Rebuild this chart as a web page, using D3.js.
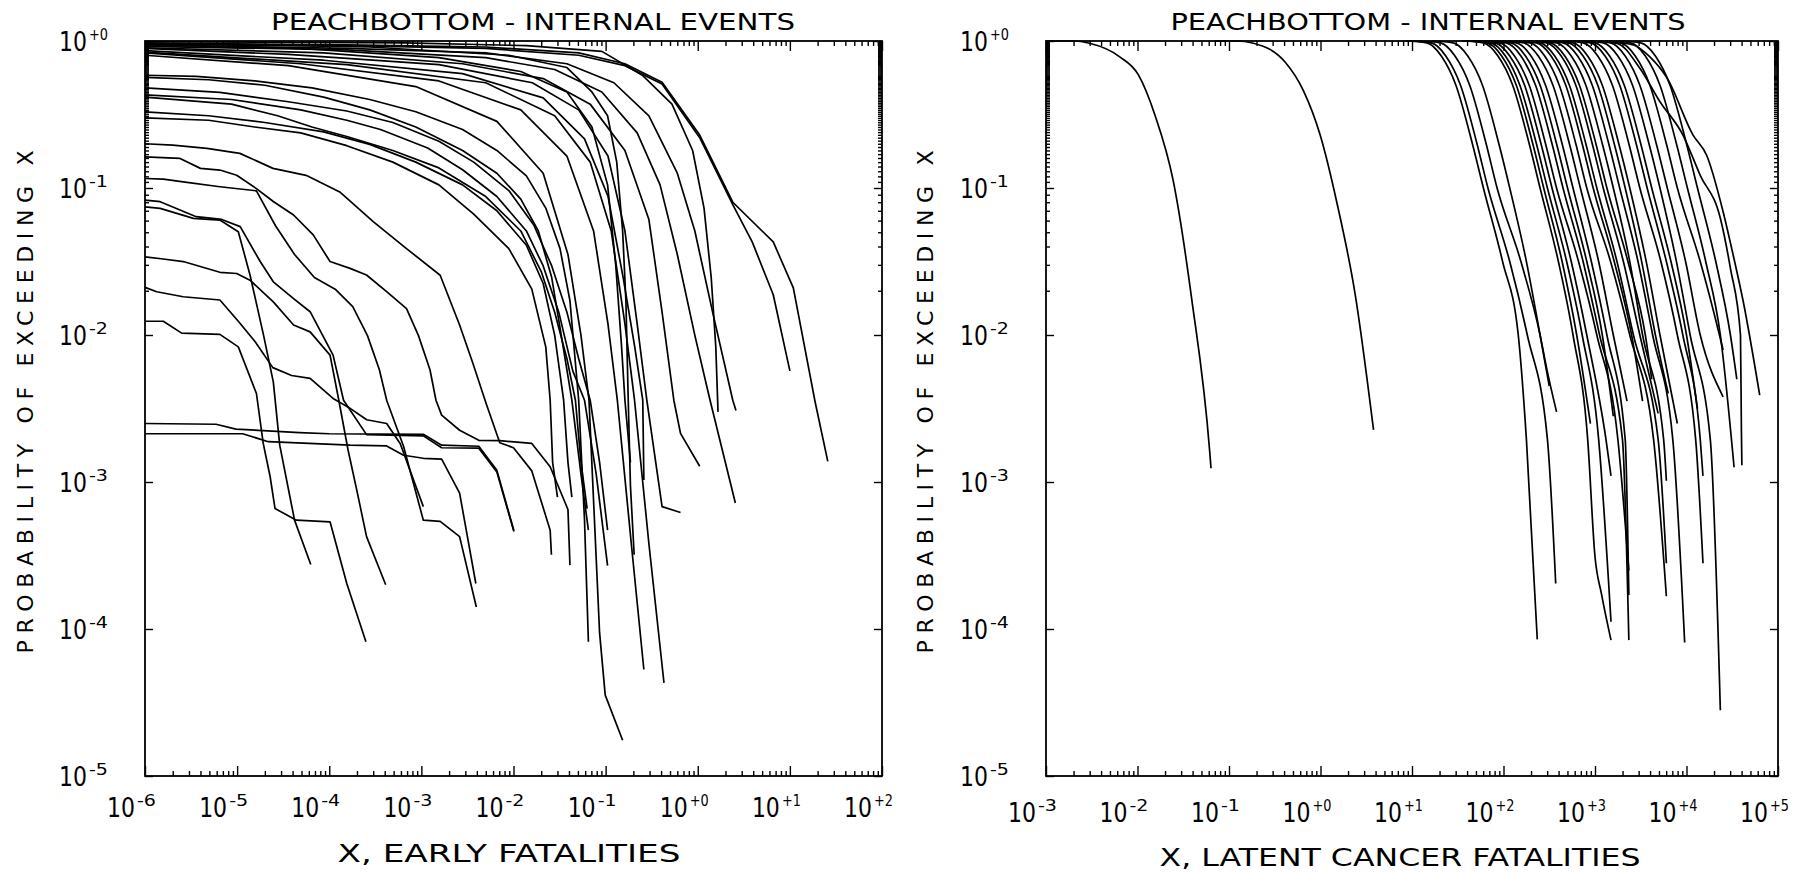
<!DOCTYPE html>
<html>
<head>
<meta charset="utf-8">
<title>Peachbottom - Internal Events</title>
<script src="https://cdn.jsdelivr.net/npm/d3@7/dist/d3.min.js"></script>
<style>
  body { margin: 0; background: #fff; }
  svg { display: block; }
  text { font-family: "DejaVu Sans", "Liberation Sans", sans-serif; fill: #000; }
</style>
</head>
<body>
<svg id="chart" width="1813" height="874"></svg>
<script>
// Complementary cumulative distributions.
// Every curve is a list of [x, probability of exceeding x].

const titleText = 'PEACHBOTTOM - INTERNAL EVENTS';
const yTitle = 'PROBABILITY OF EXCEEDING X';
const earlyXTitle = 'X, EARLY FATALITIES';
const latentXTitle = 'X, LATENT CANCER FATALITIES';

const earlyXTicks = [1e-6, 1e-5, 1e-4, 1e-3, 1e-2, 1e-1, 1e0, 1e1, 1e2];
const earlyXLabels = ['-6', '-5', '-4', '-3', '-2', '-1', '+0', '+1', '+2'];
const latentXTicks = [1e-3, 1e-2, 1e-1, 1e0, 1e1, 1e2, 1e3, 1e4, 1e5];
const latentXLabels = ['-3', '-2', '-1', '+0', '+1', '+2', '+3', '+4', '+5'];
const probTicks = [1, 1e-1, 1e-2, 1e-3, 1e-4, 1e-5];
const probLabels = ['+0', '-1', '-2', '-3', '-4', '-5'];

// early fatalities: curves that start close to 1
const earlyTopBand = [
  [[1e-6,0.97],[1.55e-4,0.94],[5e-3,0.91],[0.051,0.83],[0.162,0.70],[0.41,0.525],[1.05,0.229],[2.4,0.080],[6.6,0.043],[10.9,0.0209],[18.8,3.5e-3],[25.8,1.38e-3]],
  [[1e-6,0.96],[1.55e-4,0.93],[5e-3,0.89],[0.051,0.80],[0.162,0.68],[0.41,0.51],[1.05,0.22],[2.4,0.077],[3.9,0.043],[6.6,0.0188],[10.0,5.7e-3]],
  [[1e-6,0.94],[1.55e-4,0.89],[5e-3,0.83],[0.038,0.70],[0.123,0.52],[0.295,0.31],[0.60,0.126],[0.93,0.051],[1.45,0.0143],[2.4,3.6e-3],[2.6,3.06e-3]],
  [[1e-6,0.92],[1.55e-4,0.87],[5e-3,0.77],[0.028,0.64],[0.091,0.45],[0.22,0.237],[0.39,0.105],[0.60,0.0353],[0.93,9.95e-3],[1.36,3.6e-3],[2.56,7.2e-4]],
  [[1e-6,0.90],[8.7e-5,0.83],[2.8e-3,0.70],[0.021,0.555],[0.068,0.372],[0.162,0.18],[0.295,0.061],[0.41,0.0143],[0.55,3.6e-3],[0.65,2.14e-3],[1.05,1.28e-3]],
  [[1e-6,0.89],[3.6e-5,0.81],[1.55e-3,0.69],[0.016,0.52],[0.051,0.34],[0.106,0.165],[0.162,0.051],[0.22,0.0119],[0.28,3.6e-3],[0.41,6.8e-4],[0.65,6.2e-4]],
  [[1e-6,0.86],[8.7e-5,0.74],[2.8e-3,0.60],[0.021,0.41],[0.059,0.216],[0.106,0.088],[0.155,0.0246],[0.207,8.3e-3],[0.253,3.6e-3],[0.26,1.03e-3]],
  [[1e-6,0.84],[1.55e-4,0.69],[5e-3,0.52],[0.028,0.31],[0.068,0.15],[0.115,0.051],[0.162,0.0119],[0.206,3.6e-3],[0.295,3.8e-4],[0.43,4.3e-5]],
  [[1e-6,0.83],[4.9e-5,0.70],[1.55e-3,0.535],[0.012,0.34],[0.038,0.165],[0.074,0.051],[0.106,0.0119],[0.134,3.6e-3],[0.19,3.8e-4],[0.26,5.3e-5]],
  [[1e-6,0.80],[3.6e-5,0.68],[8.7e-4,0.49],[6.6e-3,0.284],[0.021,0.126],[0.039,0.0353],[0.054,9.95e-3],[0.066,3.6e-3],[0.086,9.4e-5],[0.099,3.55e-5],[0.153,1.75e-5]],
  [[1e-6,0.99],[6.6e-4,0.97],[0.0138,0.93],[0.091,0.85],[0.25,0.585],[0.525,0.372],[0.88,0.18],[1.17,0.073],[1.4,0.0246],[1.57,8.3e-3],[1.66,3.0e-3]],
  [[1e-6,0.96],[2.75e-4,0.91],[8.9e-3,0.80],[0.038,0.66],[0.071,0.45],[0.105,0.31],[0.132,0.15],[0.153,0.051],[0.166,0.0171],[0.176,3.6e-3],[0.186,9.4e-4],[0.204,3.2e-4]],
  [[1e-6,0.94],[4.9e-5,0.89],[1.55e-3,0.77],[0.012,0.62],[0.038,0.45],[0.071,0.26],[0.105,0.105],[0.129,0.0295],[0.149,8.3e-3],[0.162,3.6e-3],[0.186,1.36e-3]]
];

// early fatalities: curves starting between 0.3 and 0.6
const earlyMidBand = [
  [[1e-6,0.585],[3.6e-6,0.575],[1.55e-5,0.535],[6.5e-5,0.48],[2.75e-4,0.40],[8.7e-4,0.33],[2.8e-3,0.25],[6.6e-3,0.18],[0.0138,0.121],[0.0224,0.073],[0.032,0.0387],[0.041,0.0171],[0.051,3.6e-3],[0.059,5.5e-4],[0.065,8.2e-5]],
  [[1e-6,0.565],[4.9e-6,0.545],[2.0e-5,0.50],[8.7e-5,0.415],[2.75e-4,0.34],[8.7e-4,0.26],[2.8e-3,0.18],[6.6e-3,0.126],[0.012,0.084],[0.0186,0.051],[0.026,0.0246],[0.033,9.95e-3],[0.043,3.6e-3],[0.054,1.13e-3],[0.065,4.7e-4]],
  [[1e-6,0.48],[6.5e-6,0.447],[3.6e-5,0.386],[1.55e-4,0.334],[4.9e-4,0.279],[1.55e-3,0.208],[3.7e-3,0.15],[8.9e-3,0.096],[0.0166,0.056],[0.026,0.0295],[0.038,0.0143],[0.051,6.9e-3],[0.068,3.6e-3],[0.086,1.36e-3],[0.105,4.7e-4]],
  [[1e-6,0.43],[8.7e-6,0.40],[4.9e-5,0.34],[1.55e-4,0.289],[3.6e-4,0.25],[1.17e-3,0.187],[2.8e-3,0.133],[6.6e-3,0.0875],[0.0138,0.051],[0.021,0.0295],[0.031,0.0143],[0.044,5.7e-3],[0.059,3.6e-3],[0.079,1.13e-3],[0.105,2.7e-4]],
  [[1e-6,0.415],[8.7e-6,0.372],[2.75e-5,0.31],[6.5e-5,0.26],[1.55e-4,0.224],[4.9e-4,0.18],[1.55e-3,0.137],[5e-3,0.0875],[0.012,0.051],[0.020,0.027],[0.028,0.0143],[0.038,6.9e-3],[0.047,3.6e-3],[0.054,1.36e-3],[0.063,6.6e-4]],
  [[1e-6,0.33],[4.9e-6,0.31],[2.0e-5,0.279],[8.7e-5,0.241],[2.75e-4,0.198],[8.7e-4,0.15],[2.8e-3,0.105],[6.6e-3,0.070],[0.0138,0.0408],[0.021,0.0224],[0.028,9.95e-3],[0.035,3.6e-3],[0.039,1.36e-3],[0.043,7.9e-4]],
  [[1e-6,0.30],[4.9e-6,0.289],[1.55e-5,0.26],[4.9e-5,0.237],[1.55e-4,0.194],[4.9e-4,0.15],[1.55e-3,0.105],[3.7e-3,0.0665],[8.9e-3,0.0387],[0.0158,0.0205],[0.0224,8.3e-3],[0.025,3.6e-3],[0.0266,1.36e-3],[0.030,7.9e-4]]
];

// early fatalities: low curves with stepwise drops
const earlyLowBand = [
  [[1e-6,0.20],[2.0e-6,0.196],[4.7e-6,0.186],[1.07e-5,0.172],[2.45e-5,0.136],[5.6e-5,0.122],[1.3e-4,0.094],[3.0e-4,0.059],[6.9e-4,0.0387],[1.6e-3,0.0255],[2.6e-3,0.0117],[3.6e-3,6.5e-3],[5.1e-3,3.35e-3],[7.1e-3,1.85e-3],[0.010,1.71e-3],[0.0158,1.19e-3],[0.025,4.7e-4],[0.0258,3.2e-4]],
  [[1e-6,0.163],[2.4e-6,0.159],[4.0e-6,0.136],[6.5e-6,0.1325],[9.9e-6,0.122],[1.62e-5,0.099],[2.47e-5,0.081],[4.1e-5,0.0655],[6.7e-5,0.048],[1.02e-4,0.0316],[1.68e-4,0.0284],[2.54e-4,0.0256],[4.2e-4,0.0197],[6.9e-4,0.0151],[9.3e-4,9.9e-3],[1.24e-3,5.8e-3],[1.44e-3,3.6e-3],[1.66e-3,2.85e-3],[2.6e-3,2.25e-3],[4.2e-3,1.92e-3],[7.1e-3,1.91e-3],[0.0158,1.83e-3],[0.025,1.27e-3],[0.039,6.5e-4],[0.041,2.72e-4]],
  [[1e-6,0.116],[1.58e-6,0.115],[2.6e-6,0.110],[6.5e-6,0.102],[1.62e-5,0.0957],[2.6e-5,0.0556],[4.2e-5,0.0353],[6.9e-5,0.0246],[1.16e-4,0.0205],[1.8e-4,0.0156],[2.6e-4,9.9e-3],[3.5e-4,5.8e-3],[4.2e-4,3.6e-3],[6.4e-4,1.75e-3],[1.05e-3,5.5e-4],[1.6e-3,5.4e-4],[2.6e-3,4.25e-4],[3.95e-3,1.41e-4]],
  [[1e-6,0.0828],[1.46e-6,0.0807],[3.6e-6,0.0638],[6.8e-6,0.0611],[1.08e-5,0.0546],[1.78e-5,0.0316],[2.47e-5,0.023],[4.1e-5,0.0177],[6.2e-5,0.0144],[1.1e-4,7.3e-3],[1.43e-4,3.6e-3],[2.54e-4,2.1e-3],[1.05e-3,2.06e-3],[1.66e-3,1.71e-3],[4.2e-3,1.7e-3],[6.6e-3,1.17e-3],[0.0101,4.6e-4]],
  [[1e-6,0.0743],[1.46e-6,0.0727],[3.35e-6,0.0622],[6.5e-6,0.0605],[1.03e-5,0.0504],[1.38e-5,0.0256],[1.94e-5,9.9e-3],[2.47e-5,4.8e-3],[2.9e-5,1.78e-3],[4.2e-5,5.5e-4],[6.3e-5,2.75e-4]],
  [[1e-6,0.034],[1.58e-6,0.0329],[2.6e-6,0.0316],[6.5e-6,0.0267],[9.9e-6,0.0262],[1.38e-5,0.0236],[2.47e-5,0.0168],[4.1e-5,0.0117],[6.2e-5,0.0105],[1.02e-4,7.3e-3],[1.27e-4,3.6e-3],[1.6e-4,1.65e-3],[1.99e-4,8.8e-4],[2.54e-4,4.25e-4],[4.1e-4,2.0e-4]],
  [[1e-6,0.0211],[1.34e-6,0.0197],[2.6e-6,0.0182],[6.5e-6,0.0173],[1.03e-5,0.0124],[1.57e-5,9.0e-3],[2.44e-5,6.0e-3],[3.9e-5,5.3e-3],[6.2e-5,5.07e-3],[1.1e-4,3.7e-3],[1.61e-4,3.23e-3],[2.55e-4,2.65e-3],[4.2e-4,2.5e-3],[5.9e-4,1.82e-3],[1.05e-3,6.8e-4]],
  [[1e-6,0.0124],[1.58e-6,0.0124],[2.5e-6,0.0103],[6.5e-6,0.0101],[1.03e-5,8.3e-3],[1.62e-5,4.0e-3],[1.92e-5,1.83e-3],[2.28e-5,1.09e-3],[2.58e-5,6.6e-4],[4.4e-5,5.5e-4],[1.02e-4,5.36e-4],[1.55e-4,2.04e-4],[2.5e-4,8.2e-5]],
  [[1e-6,2.5e-3],[5.9e-6,2.47e-3],[9.7e-6,2.29e-3],[4.75e-5,2.17e-3],[1.0e-4,2.13e-3],[1.05e-3,2.11e-3],[1.66e-3,1.78e-3],[4.2e-3,1.75e-3],[6.6e-3,1.2e-3],[0.0101,4.66e-4]],
  [[1e-6,2.13e-3],[1.15e-5,2.13e-3],[2.18e-5,1.88e-3],[1.68e-4,1.78e-3],[4.2e-4,1.76e-3],[6.4e-4,1.52e-3],[1.05e-3,1.45e-3],[1.66e-3,1.43e-3],[2.6e-3,8.4e-4],[3.9e-3,2.04e-4]]
];

// latent cancer fatalities: the two isolated curves on the left
const latentOutliers = [
  [[1e-3,1],[2e-3,1],[3e-3,0.965],[6.4e-3,0.78],[0.0102,0.59],[0.0155,0.314],[0.0245,0.113],[0.039,0.0178],[0.0616,1.6e-3],[0.0636,1.24e-3]],
  [[0.07,1],[0.121,1],[0.185,0.965],[0.41,0.72],[0.65,0.46],[0.99,0.23],[1.5,0.081],[2.4,0.0187],[3.8,2.26e-3]]
];

// latent cancer fatalities: the main bundle
const latentCluster = [
  [[8.5,1],[14.5,0.97],[20.9,0.79],[30.2,0.5],[45.7,0.2],[60.3,0.1],[97.7,0.0316],[145,0.01],[178,1.95e-3],[234,8.5e-5]],
  [[9.5,1],[16.2,0.97],[23.4,0.79],[33.9,0.5],[51.3,0.2],[67.6,0.1],[117,0.0316],[182,0.01],[302,1.95e-3],[372,2.04e-4]],
  [[12,1],[20.4,0.97],[29.5,0.79],[42.7,0.5],[64.6,0.2],[85.1,0.1],[155,0.0316],[251,0.01],[295,6.0e-3],[380,3.0e-3]],
  [[16.6,1],[28.2,0.97],[40.7,0.79],[58.9,0.5],[89,0.2],[117,0.1],[178,0.0316],[251,0.01],[316,4.5e-3]],
  [[35.5,1],[60,0.97],[87,0.79],[126,0.5],[191,0.2],[251,0.1],[398,0.0316],[575,0.01],[832,1.95e-3],[1000,3.1e-4],[1175,1.74e-4],[1496,8.4e-5]],
  [[42.7,1],[72,0.97],[105,0.79],[151,0.5],[229,0.2],[302,0.1],[490,0.0316],[724,0.01],[1096,1.95e-3],[1496,1.12e-4]],
  [[47.9,1],[81,0.97],[117,0.79],[170,0.5],[257,0.2],[339,0.1],[550,0.0316],[813,0.01],[1318,1.95e-3],[1496,1.1e-3]],
  [[53.7,1],[91,0.97],[132,0.79],[191,0.5],[288,0.2],[380,0.1],[661,0.0316],[1047,0.01],[1778,1.95e-3],[2344,2.5e-4]],
  [[63,1],[107,0.97],[155,0.79],[224,0.5],[339,0.2],[447,0.1],[741,0.0316],[1122,0.01],[1995,1.95e-3],[2344,8.4e-5]],
  [[81,1],[138,0.97],[200,0.79],[288,0.5],[437,0.2],[575,0.1],[912,0.0316],[1349,0.01],[2138,1.95e-3],[2344,1.7e-4]],
  [[98,1],[166,0.97],[240,0.79],[347,0.5],[525,0.2],[692,0.1],[1096,0.0316],[1585,0.01],[2239,3.55e-3]],
  [[115,1],[195,0.97],[282,0.79],[407,0.5],[617,0.2],[813,0.1],[1479,0.0316],[2399,0.01],[4365,1.95e-3],[6026,1.67e-4]],
  [[148,1],[251,0.97],[363,0.79],[525,0.5],[794,0.2],[1047,0.1],[1738,0.0316],[2630,0.01],[4898,1.95e-3],[6026,2.8e-4]],
  [[174,1],[295,0.97],[427,0.79],[617,0.5],[933,0.2],[1230,0.1],[2042,0.0316],[3090,0.01],[4898,2.93e-3]],
  [[224,1],[380,0.97],[550,0.79],[794,0.5],[1202,0.2],[1585,0.1],[2399,0.0316],[3311,0.01],[5623,1.95e-3],[6026,1.02e-3]],
  [[263,1],[447,0.97],[646,0.79],[933,0.5],[1413,0.2],[1862,0.1],[2951,0.0316],[4266,0.01],[7079,1.95e-3],[9550,8.1e-5]],
  [[339,1],[575,0.97],[832,0.79],[1202,0.5],[1820,0.2],[2399,0.1],[3631,0.0316],[5129,0.01],[7943,2.5e-3]],
  [[437,1],[741,0.97],[1072,0.79],[1549,0.5],[2344,0.2],[3090,0.1],[5248,0.0316],[7943,0.01],[12590,1.95e-3],[15140,2.8e-4]],
  [[525,1],[891,0.97],[1288,0.79],[1862,0.5],[2818,0.2],[3715,0.1],[6026,0.0316],[9120,0.01],[14130,1.95e-3],[15140,1.1e-3]],
  [[724,1],[1230,0.97],[1778,0.79],[2570,0.5],[3890,0.2],[5129,0.1],[7762,0.0316],[10960,0.01],[18200,1.95e-3],[23440,2.8e-5]],
  [[871,1],[1479,0.97],[2138,0.79],[3090,0.5],[4677,0.2],[6166,0.1],[9772,0.0316],[14130,0.01],[25120,3.8e-3]],
  [[1122,1],[1905,0.97],[2754,0.79],[3981,0.5],[6026,0.2],[7943,0.1],[14130,0.0316],[22910,0.01],[25120,7.9e-3]],
  [[1445,1],[2455,0.97],[3548,0.79],[5129,0.5],[7762,0.2],[10230,0.1],[16220,0.0316],[23440,0.01],[33110,1.26e-3]],
  [[1862,1],[3162,0.97],[4571,0.79],[6607,0.5],[10000,0.2],[13180,0.1],[20890,0.0316],[30200,0.01],[35480,5.0e-3]],
  [[38.9,1],[66,0.97],[95.5,0.79],[138,0.5],[209,0.2],[275,0.1],[437,0.0316],[631,0.01],[891,2.5e-3]],
  [[70.8,1],[120,0.97],[174,0.79],[251,0.5],[380,0.2],[501,0.1],[813,0.0316],[1202,0.01],[1585,2.8e-3]],
  [[135,1],[229,0.97],[331,0.79],[479,0.5],[724,0.2],[955,0.1],[1622,0.0316],[2512,0.01],[3311,3.55e-3]],
  [[191,1],[324,0.97],[468,0.79],[676,0.5],[1023,0.2],[1349,0.1],[2291,0.0316],[3548,0.01],[4169,5.0e-3]],
  [[302,1],[513,0.97],[741,0.79],[1072,0.5],[1622,0.2],[2138,0.1],[3236,0.0316],[4571,0.01],[6310,4.0e-3]],
  [[589,1],[1000,0.97],[1445,0.79],[2089,0.5],[3162,0.2],[4169,0.1],[6761,0.0316],[10000,0.01],[13180,3.16e-3]],
  [[1259,1],[2630,0.94],[3981,0.78],[6166,0.557],[11750,0.23],[16600,0.167],[25120,0.069],[32360,0.035],[41690,0.0169],[63100,3.9e-3]],
  [[891,1],[1738,0.964],[3090,0.652],[5129,0.386],[9120,0.23],[14130,0.122],[23440,0.0622],[30200,0.0284],[38900,0.01],[39810,2.26e-3],[40300,1.3e-3]]
];

const svg = d3.select('#chart');
const plotTop = 41;
const plotBottom = 776;

// "10" followed by a raised exponent, like the plotter labels
function powerLabel(g, xLeft, baseline, exp) {
  g.append('text')
    .attr('x', xLeft).attr('y', baseline)
    .attr('font-size', 26)
    .attr('textLength', 28).attr('lengthAdjust', 'spacingAndGlyphs')
    .text('10');
  g.append('text')
    .attr('x', xLeft + 30).attr('y', baseline - 11)
    .attr('font-size', 15)
    .attr('textLength', 19).attr('lengthAdjust', 'spacingAndGlyphs')
    .text(exp);
}

function isDecade(v) {
  const l = Math.log10(v);
  return Math.abs(l - Math.round(l)) < 1e-9;
}

function drawPanel(cfg) {
  const x = d3.scaleLog().domain(cfg.xDomain).range([cfg.x0, cfg.x1]);
  const y = d3.scaleLog().domain([1e-5, 1]).range([plotBottom, plotTop]);
  const g = svg.append('g');

  // curves
  const line = d3.line()
    .x(d => x(d[0]))
    .y(d => y(d[1]))
    .curve(cfg.curve);

  g.append('g')
    .selectAll('path')
    .data(cfg.curves)
    .join('path')
    .attr('d', line)
    .attr('fill', 'none')
    .attr('stroke', '#000')
    .attr('stroke-width', 1.7)
    .attr('stroke-linejoin', 'round');

  // inward ticks on all four sides
  const xMinor = x.ticks(100).filter(v => !isDecade(v));
  const yMinor = y.ticks(100).filter(v => !isDecade(v));

  const addAxis = (gen, transform) => {
    g.append('g')
      .attr('transform', transform)
      .call(gen)
      .call(s => s.select('.domain').remove())
      .call(s => s.selectAll('line').attr('stroke-width', 1.4));
  };
  addAxis(d3.axisBottom(x).tickValues(xMinor).tickSize(-5).tickFormat(''), `translate(0,${plotBottom})`);
  addAxis(d3.axisBottom(x).tickValues(cfg.xTicks).tickSize(-10).tickFormat(''), `translate(0,${plotBottom})`);
  addAxis(d3.axisTop(x).tickValues(xMinor).tickSize(-5).tickFormat(''), `translate(0,${plotTop})`);
  addAxis(d3.axisTop(x).tickValues(cfg.xTicks).tickSize(-10).tickFormat(''), `translate(0,${plotTop})`);
  addAxis(d3.axisLeft(y).tickValues(yMinor).tickSize(-4).tickFormat(''), `translate(${cfg.x0},0)`);
  addAxis(d3.axisLeft(y).tickValues(probTicks).tickSize(-8).tickFormat(''), `translate(${cfg.x0},0)`);
  addAxis(d3.axisRight(y).tickValues(yMinor).tickSize(-4).tickFormat(''), `translate(${cfg.x1},0)`);
  addAxis(d3.axisRight(y).tickValues(probTicks).tickSize(-8).tickFormat(''), `translate(${cfg.x1},0)`);

  // frame
  g.append('rect')
    .attr('x', cfg.x0).attr('y', plotTop)
    .attr('width', cfg.x1 - cfg.x0).attr('height', plotBottom - plotTop)
    .attr('fill', 'none').attr('stroke', '#000').attr('stroke-width', 1.8);

  // tick labels
  cfg.xTicks.forEach((v, i) => powerLabel(g, x(v) - 38, cfg.xLabelBase, cfg.xLabels[i]));
  probTicks.forEach((v, i) => powerLabel(g, cfg.x0 - 86, y(v) + 10, probLabels[i]));

  // titles
  g.append('text')
    .attr('x', cfg.titleX).attr('y', 30)
    .attr('text-anchor', 'middle')
    .attr('font-size', 23)
    .attr('textLength', cfg.titleLen).attr('lengthAdjust', 'spacingAndGlyphs')
    .text(titleText);

  g.append('text')
    .attr('x', cfg.xTitleX).attr('y', cfg.xTitleBase)
    .attr('text-anchor', 'middle')
    .attr('font-size', 24)
    .attr('textLength', cfg.xTitleLen).attr('lengthAdjust', 'spacingAndGlyphs')
    .text(cfg.xTitle);

  g.append('text')
    .attr('transform', `translate(${cfg.yTitleX},402) rotate(-90)`)
    .attr('text-anchor', 'middle')
    .attr('dominant-baseline', 'central')
    .attr('font-size', 22)
    .attr('textLength', 503).attr('lengthAdjust', 'spacing')
    .text(yTitle);
}

drawPanel({
  xDomain: [1e-6, 1e2], x0: 145, x1: 882,
  xTicks: earlyXTicks, xLabels: earlyXLabels, xLabelBase: 817,
  curves: earlyTopBand.concat(earlyMidBand, earlyLowBand),
  curve: d3.curveLinear,
  titleX: 533, titleLen: 524,
  xTitle: earlyXTitle, xTitleX: 509, xTitleBase: 862, xTitleLen: 343,
  yTitleX: 25
});

drawPanel({
  xDomain: [1e-3, 1e5], x0: 1046, x1: 1778,
  xTicks: latentXTicks, xLabels: latentXLabels, xLabelBase: 822,
  curves: latentOutliers.concat(latentCluster),
  curve: d3.curveMonotoneX,
  titleX: 1428, titleLen: 515,
  xTitle: latentXTitle, xTitleX: 1400, xTitleBase: 866, xTitleLen: 481,
  yTitleX: 925
});
</script>
</body>
</html>
